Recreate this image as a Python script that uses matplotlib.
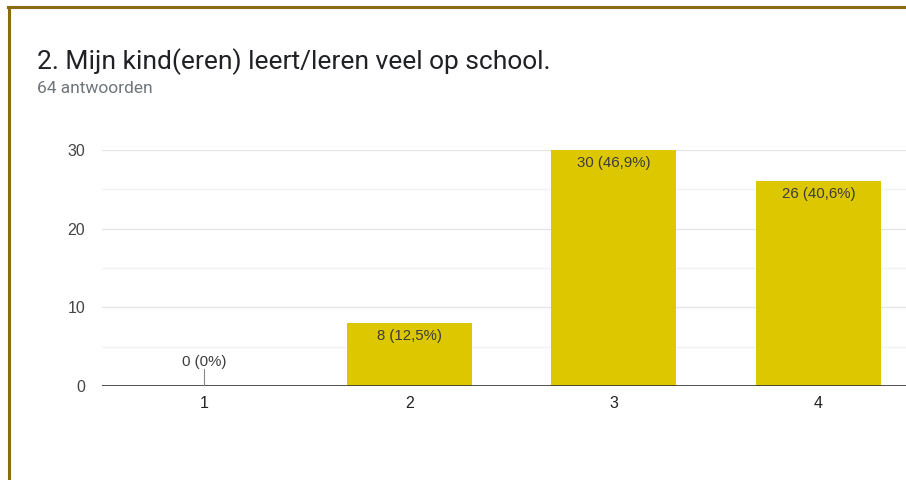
import matplotlib.pyplot as plt
from matplotlib.ticker import MultipleLocator

categories = ['1', '2', '3', '4']
counts = [0, 8, 30, 26]
labels = ['0 (0%)', '8 (12,5%)', '30 (46,9%)', '26 (40,6%)']

W, H = 906, 480
fig = plt.figure(figsize=(W / 100, H / 100), dpi=100)
fig.patch.set_facecolor('white')

# rand van het formulierkaartje
fig.add_artist(plt.Line2D([8 / W, 1], [1 - 6.5 / H, 1 - 6.5 / H], color='#8a6a12', lw=2.2))
fig.add_artist(plt.Line2D([8.5 / W, 8.5 / W], [0, 1 - 6.5 / H], color='#8a6a12', lw=2.2))

fig.text(37 / W, 1 - 69 / H, '2. Mijn kind(eren) leert/leren veel op school.',
         fontsize=19, family='Roboto', color='#202124', va='baseline')
fig.text(37 / W, 1 - 93 / H, '64 antwoorden', fontsize=12.5, family='Roboto',
         color='#70757a', va='baseline')

# assen: x=102..921 px, y=150..386 px
ax = fig.add_axes([102 / W, 1 - 386 / H, 819 / W, 236 / H])
x = range(1, len(categories) + 1)
ax.bar(x, counts, width=0.61, color='#ddc700', zorder=3)
ax.set_xlim(0.5, 4.5)
ax.set_ylim(0, 30)

ax.yaxis.set_major_locator(MultipleLocator(10))
ax.yaxis.set_minor_locator(MultipleLocator(5))
ax.grid(which='major', axis='y', color='#e6e6e6', lw=1, zorder=0)
ax.grid(which='minor', axis='y', color='#f2f2f2', lw=1, zorder=0)
ax.axhline(0, color='#333333', lw=1.2, zorder=4)

for s in ax.spines.values():
    s.set_visible(False)
ax.tick_params(which='both', length=0)
ax.tick_params(axis='y', pad=12, labelsize=11.5, labelcolor='#444444')
ax.tick_params(axis='x', pad=7, labelsize=11.5, labelcolor='#222222')
ax.set_xticks(list(x))
ax.set_xticklabels(categories)
for t in ax.get_xticklabels() + ax.get_yticklabels():
    t.set_family('Liberation Sans')

for xi, c, lab in zip(x, counts, labels):
    if c == 0:
        ax.plot([xi, xi], [0, 2.1], color='#888888', lw=0.8, zorder=4)
        ax.text(xi, 2.2, lab, ha='center', va='bottom', fontsize=10.8,
                family='Liberation Sans', color='#3c3c3c', zorder=5)
    else:
        ax.annotate(lab, (xi, c), xytext=(0, -4), textcoords='offset points',
                    ha='center', va='top', fontsize=10.8, family='Liberation Sans',
                    color='#3c3c3c', zorder=5)

fig.savefig('out.png', dpi=100)
